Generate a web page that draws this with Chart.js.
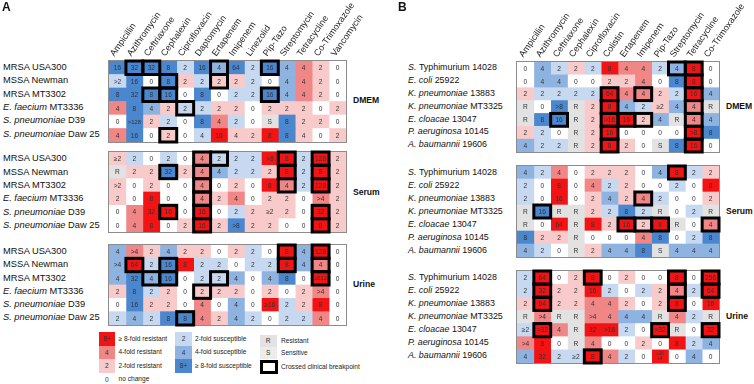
<!DOCTYPE html>
<html><head><meta charset="utf-8">
<script src="https://cdn.jsdelivr.net/npm/chart.js@4"></script>
<style>
html,body{margin:0;padding:0;background:#fff;}
#wrap{position:relative;width:754px;height:384px;overflow:hidden;font-family:"Liberation Sans",Arial,sans-serif;color:#111;}
.abs{position:absolute;white-space:nowrap;}
.rowlab{font-size:9.3px;line-height:11px;}
.rowlabB{font-size:8.9px;line-height:11px;}
.hdr{font-size:9px;line-height:9px;transform-origin:0 100%;transform:rotate(-55deg);color:#222;}
.med{font-size:8.6px;line-height:11px;font-weight:bold;}
.panel{font-size:12px;line-height:12px;font-weight:bold;}
.leg{font-size:6.6px;line-height:8px;color:#222;}
.sw{position:absolute;font-size:6.6px;text-align:center;color:#333;box-sizing:border-box;}
</style></head><body><div id="wrap"></div>
<script>
// ---------------- DATA ----------------
const colsA = ["Ampicillin","Azithromycin","Ceftriaxone","Cephalexin","Ciprofloxacin","Daptomycin","Ertapenem","Imipenem","Linezolid","Pip-Tazo","Streptomycin","Tetracycline","Co-Trimoxazole","Vancomycin"];
const colsB = ["Ampicillin","Azithromycin","Ceftriaxone","Cephalexin","Ciprofloxacin","Colistin","Ertapenem","Imipenem","Pip-Tazo","Streptomycin","Tetracycline","Co-Trimoxazole"];
const speciesA = ["","","","E. faecium","S. pneumoniae","S. pneumoniae"];
const strainA = ["MRSA USA300","MSSA Newman","MRSA MT3302","MT3336","D39","Daw 25"];
const speciesB = ["S.","E. coli","K. pneumoniae","K. pneumoniae","E. cloacae","P. aeruginosa","A. baumannii"];
const strainB = ["Typhimurium 14028","25922","13883","MT3325","13047","10145","19606"];
const media = ["DMEM","Serum","Urine"];

// fold level: -3..-1 susceptible, 0 no change, 1..3 resistant, 9 = R/S
const aDmemText = [
 ["16","32","32","8","2","16","4","64","2","16","4","4","2","0"],
 [">2","16","0","8","2","2","2","2","2","0","4","4","2","0"],
 ["8","32","8","16","0","8","0","2","2","16","4","4","2","0"],
 ["4","8","4","2","2","2","2","2","0","2","2","2","0","2"],
 ["0",">128","2","2","0","8","4","2","0","S","8","2","2","0"],
 ["4","16","0","2","0","4","16","4","2","8","8","4","0","2"]];
const aDmemFold = [
 [-3,-3,-3,-3,-1,-3,-2,-3,-1,-3,-2,2,1,0],
 [-1,-3,0,-3,1,-1,1,1,-1,0,-2,2,1,0],
 [-3,-3,-3,-3,0,-3,0,-1,-1,-3,-2,2,1,0],
 [2,-3,-2,1,-1,-1,1,1,0,1,1,1,0,1],
 [0,-3,1,-1,0,-3,2,-1,0,9,-3,1,1,0],
 [2,-3,0,1,0,-1,3,1,1,3,-3,1,0,1]];
const aDmemBox = [[0,1],[0,2],[0,6],[0,9],[1,3],[1,6],[2,2],[2,3],[2,9],[3,4],[5,3]];

const aSerumText = [
 ["≥2","2","0","2","0","4","2","2","2",">8","8","2","128","2"],
 ["R","2","2","32","2","4","4","2","2","2","8","2","8","2"],
 [">2","0","2","0","0","4","0","2","0","8","4","2","128","2"],
 ["2","0","8","0","0","4","2","4","0","2","2","0",">4","2"],
 ["0","4","32","16","0","16","0","2","2","≥2","2","0","32","2"],
 ["0","4","8","0","2","16","2",">8","2","2","0","0","8","2"]];
const aSerumFold = [
 [1,-1,0,-1,0,2,-1,-1,-1,3,3,-1,3,1],
 [9,1,1,-3,1,2,-2,-1,-1,1,3,-1,3,1],
 [1,0,1,0,0,2,0,1,0,3,2,-1,3,1],
 [1,0,3,0,0,2,1,2,0,1,1,0,2,1],
 [0,2,3,3,0,3,0,-1,1,1,1,0,3,1],
 [0,2,3,0,1,3,1,-3,1,1,0,0,3,1]];
const aSerumBox = [[0,5],[0,6],[0,10],[0,12],[1,3],[1,5],[1,10],[1,12],[2,5],[2,10],[2,12],[3,5],[4,3],[4,5],[4,12],[5,5],[5,12]];

const aUrineText = [
 ["4",">4","2","4","2","2","0","2","2","0","8","4","128","0"],
 [">4","64","2","16","8","2","2","0","2","2","8","4","4","0"],
 ["4","32","4","16","0","2","2","4","0","4","8","0","≥512","0"],
 ["2","8","2","2","0","2","2","2","0","2","0","2",">4","0"],
 ["0","16","2","2","0","4","0","4","0","≥16","2","2","8","0"],
 ["2","4","2","8","8","4","2","4","2","0","2","2","4","0"]];
const aUrineFold = [
 [-2,2,1,-2,1,1,0,1,-1,0,3,-2,3,0],
 [-2,3,-1,-3,3,-1,-1,0,-1,-1,3,-2,2,0],
 [-2,-3,-2,-3,0,-1,-1,-2,0,-2,-3,0,3,0],
 [1,-3,-1,1,0,1,1,1,0,1,0,1,2,0],
 [0,-3,1,1,0,2,0,-2,0,3,-1,1,3,0],
 [-1,-2,-1,-3,-3,2,1,-2,-1,0,-1,-1,2,0]];
const aUrineBox = [[0,10],[0,12],[1,1],[1,3],[1,10],[1,12],[2,2],[2,3],[2,6],[2,12],[3,5],[5,4]];

const bDmemText = [
 ["0","4","2","2","2","8","4","4","2","4","8","0"],
 ["0","4","4","0","0","2","2","4","0","8","8","0"],
 ["2","2","2","2","2","64","4","4","2","2","16","4"],
 ["R","0",">8","R","2","8","4","2","≥2","4","4","R"],
 ["R","8","16","R","2",">16","16","2","4","R","4","4"],
 ["2","2","0","R","2","16","0","0","0","0",">8","8"],
 ["4","2","2","R","2","8","2","0","S","8","16","0"]];
const bDmemFold = [
 [0,-2,-1,1,-1,3,2,2,-1,-2,3,0],
 [0,-2,-2,0,0,1,1,2,0,-3,3,0],
 [1,-1,-1,-1,-1,3,2,2,1,-1,3,-2],
 [9,0,-3,9,1,3,-2,-1,1,-2,2,9],
 [9,-3,-3,9,1,3,3,1,-2,9,2,-2],
 [1,-1,0,9,1,3,0,0,0,0,3,-3],
 [-2,-1,-1,9,1,3,1,0,9,-3,3,0]];
const bDmemBox = [[0,9],[0,10],[1,10],[2,5],[2,7],[2,10],[3,5],[3,10],[4,2],[4,5],[4,6],[4,7],[4,10],[5,5],[5,10],[6,5],[6,10]];

const bSerumText = [
 ["4","2","4","0","2","2","2","0","4","8","2","2"],
 ["2","0","8","0","4","2","2","0","0","2","0","8"],
 ["2","0","16","0","2","4","2","4","2","0","0","2"],
 ["R","16","R","R","2","2","8","2","R","0","2","R"],
 ["R","0","64","R","8","2","16","2","8","R","0","4"],
 ["8","2","2","R","0","0","0","4","8","0","2","8"],
 ["4","2","0","R","2","4","4","8","S","4","4","4"]];
const bSerumFold = [
 [-2,-1,2,0,1,1,1,0,-2,3,-1,1],
 [-1,0,3,0,2,-1,1,0,0,-1,0,3],
 [-1,0,3,0,1,-2,1,2,-1,0,0,1],
 [9,-3,9,9,1,-1,-3,-1,9,0,-1,9],
 [9,0,3,9,3,1,3,1,3,9,0,2],
 [-3,1,1,9,0,0,0,2,-3,0,-1,-3],
 [-2,-1,0,9,1,-2,-2,-3,9,-2,-2,-2]];
const bSerumBox = [[0,9],[2,7],[3,1],[4,6],[4,7],[4,8],[4,11]];

const bUrineText = [
 ["2","64","0","2","8","0","2","0","0","8","0","256"],
 ["2","32","2","2","16","2","0","2","2","4","2","64"],
 ["2","64","2","2","4","4","2","0","2","8","0","16"],
 ["R",">4","R","R",">4","4","4","4","R","4","2","R"],
 ["≥2",">32","4","R","32",">16","2","0",">32","R","0","32"],
 [">4","8","0","R","4","0","0","2","0","8","2","4"],
 ["4","32","2","≥2","8","4","2","0","≥16\n≥4","0","4","0"]];
const bUrineFold = [
 [-1,3,0,1,3,0,1,0,0,3,0,3],
 [-1,3,1,1,3,-1,0,-1,1,2,-1,3],
 [1,3,1,1,2,2,1,0,1,3,0,3],
 [9,2,9,9,2,2,-2,-2,9,2,-1,9],
 [-1,3,2,9,3,3,-1,0,3,9,0,3],
 [2,3,0,9,2,0,0,1,0,3,-1,-2],
 [-2,3,-1,-1,3,2,-1,0,3,0,-2,0]];
const bUrineBox = [[0,1],[0,4],[0,9],[0,11],[1,1],[1,9],[1,11],[2,1],[2,9],[4,1],[4,8],[4,11],[6,4]];

// ---------------- STYLE / LAYOUT ----------------
const FOLD_COLORS = {"-3":"#4a87cf","-2":"#8fb3e1","-1":"#c6d9f1","0":"#ffffff","1":"#f9caca","2":"#f08686","3":"#f21414","9":"#e2e2e2"};
const PAD = 4;
const wrap = document.getElementById('wrap');

function addEl(cls, html, left, top, style) {
  const d = document.createElement('div');
  d.className = 'abs ' + cls;
  d.innerHTML = html;
  d.style.left = left + 'px';
  d.style.top = top + 'px';
  if (style) Object.assign(d.style, style);
  wrap.appendChild(d);
  return d;
}

function makePlugin(texts, boxes) {
  return {
    id: 'cells',
    afterDatasetsDraw(chart) {
      const ctx = chart.ctx, ca = chart.chartArea;
      ctx.save();
      ctx.textAlign = 'center';
      ctx.textBaseline = 'middle';
      ctx.fillStyle = '#333';
      chart.data.datasets.forEach((ds, c) => {
        chart.getDatasetMeta(c).data.forEach((bar, r) => {
          const p = bar.getProps(['x','y','base','height'], true);
          const cx = (p.x + p.base) / 2, cy = p.y;
          const t = texts[r][c];
          if (t.indexOf('\n') >= 0) {
            const parts = t.split('\n');
            ctx.font = '4.6px "Liberation Sans", Arial, sans-serif';
            ctx.fillText(parts[0], cx, cy - 2.6);
            ctx.fillText(parts[1], cx, cy + 2.6);
          } else {
            ctx.font = (t.length > 3 ? '5.8px' : '6.6px') + ' "Liberation Sans", Arial, sans-serif';
            ctx.fillText(t, cx, cy + 0.5);
          }
        });
      });
      ctx.strokeStyle = '#8c8c8c';
      ctx.lineWidth = 1;
      ctx.strokeRect(ca.left - 0.5, ca.top - 0.5, ca.right - ca.left + 1, ca.bottom - ca.top + 1);
      ctx.strokeStyle = '#000';
      ctx.lineWidth = 3;
      boxes.forEach(([r, c]) => {
        const p = chart.getDatasetMeta(c).data[r].getProps(['x','y','base','height'], true);
        const l = Math.min(p.x, p.base), w = Math.abs(p.x - p.base);
        ctx.strokeRect(l, p.y - p.height / 2, w, p.height);
      });
      ctx.restore();
    }
  };
}

function makeBlock(cols, texts, folds, boxes, left, top, width, height) {
  const div = document.createElement('div');
  div.className = 'abs';
  div.style.left = (left - PAD) + 'px';
  div.style.top = (top - PAD) + 'px';
  const cv = document.createElement('canvas');
  cv.width = Math.round(width + 2 * PAD);
  cv.height = Math.round(height + 2 * PAD);
  cv.style.width = cv.width + 'px';
  cv.style.height = cv.height + 'px';
  div.appendChild(cv);
  wrap.appendChild(div);
  const datasets = cols.map((name, c) => ({
    label: name,
    data: folds.map(() => [c, c + 1]),
    backgroundColor: folds.map(row => FOLD_COLORS[String(row[c])]),
    borderWidth: 0,
    grouped: false,
    barPercentage: 1,
    categoryPercentage: 1
  }));
  new Chart(cv, {
    type: 'bar',
    data: { labels: folds.map((_, r) => 'r' + r), datasets },
    options: {
      indexAxis: 'y',
      responsive: false,
      animation: false,
      devicePixelRatio: 1,
      layout: { padding: PAD },
      plugins: { legend: { display: false }, tooltip: { enabled: false } },
      scales: {
        x: { type: 'linear', min: 0, max: cols.length, display: false },
        y: { type: 'category', display: false, offset: true }
      }
    },
    plugins: [makePlugin(texts, boxes)]
  });
}

function rowLabels(species, strains, x, top, height, cls) {
  const rh = height / species.length;
  species.forEach((sp, r) => {
    const html = sp ? '<i>' + sp + '</i><span style="margin-left:2.5px">' + strains[r] + '</span>' : strains[r];
    addEl(cls, html, x, top + (r + 0.5) * rh - 5.5);
  });
}

function headers(cols, left, width, top) {
  const cw = width / cols.length;
  cols.forEach((c, i) => {
    addEl('hdr', c, left + (i + 0.5) * cw - 0.5, top - 3 - 9);
  });
}

// Panel A
const A_LEFT = 108.5, A_W = 237;
const A_TOPS = [60.5, 152, 245], A_H = [80.5, 80, 79.5];
const aTexts = [aDmemText, aSerumText, aUrineText];
const aFolds = [aDmemFold, aSerumFold, aUrineFold];
const aBoxes = [aDmemBox, aSerumBox, aUrineBox];
for (let k = 0; k < 3; k++) {
  makeBlock(colsA, aTexts[k], aFolds[k], aBoxes[k], A_LEFT, A_TOPS[k], A_W, A_H[k]);
  rowLabels(speciesA, strainA, 3, A_TOPS[k], A_H[k], 'rowlab');
  addEl('med', media[k], 353, A_TOPS[k] + A_H[k] / 2 - 5.5);
}
headers(colsA, A_LEFT, A_W, A_TOPS[0]);

// Panel B
const B_LEFT = 517, B_W = 202;
const B_TOPS = [61.5, 166, 271], B_H = [89.5, 91, 91.5];
const bTexts = [bDmemText, bSerumText, bUrineText];
const bFolds = [bDmemFold, bSerumFold, bUrineFold];
const bBoxes = [bDmemBox, bSerumBox, bUrineBox];
for (let k = 0; k < 3; k++) {
  makeBlock(colsB, bTexts[k], bFolds[k], bBoxes[k], B_LEFT, B_TOPS[k], B_W, B_H[k]);
  rowLabels(speciesB, strainB, 408, B_TOPS[k], B_H[k], 'rowlabB');
  addEl('med', media[k], 726, B_TOPS[k] + B_H[k] / 2 - 5.5);
}
headers(colsB, B_LEFT, B_W, B_TOPS[0]);

addEl('panel', 'A', 2, 1);
addEl('panel', 'B', 398, 1);

// Legend
const legRed = [["8+", "≥ 8-fold resistant", 3], ["4", "4-fold resistant", 2], ["2", "2-fold resistant", 1]];
const legBlue = [["2", "2-fold susceptible", -1], ["4", "4-fold susceptible", -2], ["8+", "≥ 8-fold susceptible", -3]];
const legTops = [332, 345.5, 359];
function swatch(txt, left, top, w, h, bg, extra) {
  const d = document.createElement('div');
  d.className = 'sw';
  Object.assign(d.style, { left: left + 'px', top: top + 'px', width: w + 'px', height: h + 'px', lineHeight: h + 'px', background: bg }, extra || {});
  d.textContent = txt;
  wrap.appendChild(d);
}
legRed.forEach(([s, t, f], i) => {
  swatch(s, 98.5, legTops[i], 16.5, 13.5, FOLD_COLORS[String(f)]);
  addEl('leg', t, 118.5, legTops[i] + 6.75 - 4);
});
legBlue.forEach(([s, t, f], i) => {
  swatch(s, 175, legTops[i], 17, 13.5, FOLD_COLORS[String(f)]);
  addEl('leg', t, 195, legTops[i] + 6.75 - 4);
});
swatch("0", 98.5, 372.5, 16.5, 13, "#fff");
addEl('leg', 'no change', 118.5, 375);
swatch("R", 259.5, 335, 17.5, 12, "#e2e2e2");
addEl('leg', 'Resistant', 281, 337);
swatch("S", 259.5, 347, 17.5, 12, "#ececec");
addEl('leg', 'Sensitive', 281, 349);
swatch("", 259.5, 360, 18.5, 14, "#fff", { border: '3px solid #000' });
addEl('leg', 'Crossed clinical breakpoint', 281, 363);
</script></body></html>
